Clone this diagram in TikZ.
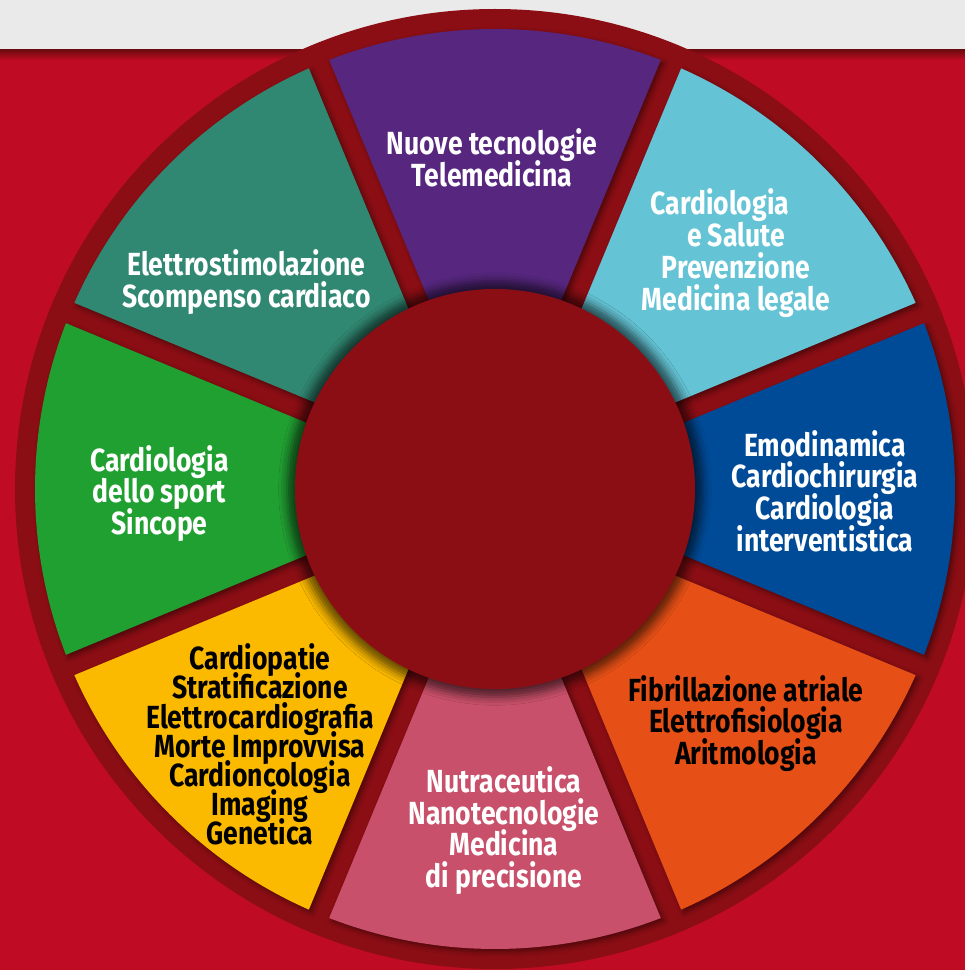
\documentclass[tikz,border=0pt]{standalone}
\usepackage{fontspec}
\setmainfont{Fira Sans}[FakeStretch=0.83]
\usetikzlibrary{shadows.blur}
\definecolor{bandgrey}{HTML}{EAEAEA}
\definecolor{bgred}{HTML}{C00B24}
\definecolor{ringred}{HTML}{8B0E14}
\definecolor{segteal}{HTML}{318872}
\definecolor{segpurple}{HTML}{572780}
\definecolor{seglblue}{HTML}{64C3D4}
\definecolor{segdblue}{HTML}{004B98}
\definecolor{segorange}{HTML}{E65016}
\definecolor{segpink}{HTML}{C8506A}
\definecolor{segyellow}{HTML}{FBBA00}
\definecolor{seggreen}{HTML}{21A032}
\newcommand{\wheelfont}[1]{\bfseries\fontsize{32}{#1}\selectfont\setlength{\lineskiplimit}{-30pt}}

\begin{document}
\begin{tikzpicture}[x=1pt,y=1pt,
  seg/.style={fill=#1,blur shadow={shadow xshift=3pt,shadow yshift=-3pt,shadow blur radius=5pt,shadow opacity=45}},
  white text/.style={align=center,text=white,inner sep=0pt,font=\wheelfont{31.8}},
  black text/.style={white text,text=black}]
  \useasboundingbox (-495,-481) rectangle (470,489);
  \fill[bandgrey] (-495,439) rectangle (470,489);
  \fill[bgred] (-495,-481) rectangle (470,439);
  \shade[top color=ringred!80!black,bottom color=bgred] (-495,429) rectangle (470,439);
  \fill[ringred] (0,0) circle[radius=480];

  % the eight sectors
  \fill[seg=segpurple] ({90-21.13}:460) arc[start angle={90-21.13},end angle={90+21.13},radius=460] -- ({90+18.3}:150) arc[start angle={90+18.3},end angle={90-18.3},radius=150] -- cycle;
  \fill[seg=seglblue] ({45-21.13}:460) arc[start angle={45-21.13},end angle={45+21.13},radius=460] -- ({45+18.3}:150) arc[start angle={45+18.3},end angle={45-18.3},radius=150] -- cycle;
  \fill[seg=segdblue] ({0-21.13}:460) arc[start angle={0-21.13},end angle={0+21.13},radius=460] -- ({0+18.3}:150) arc[start angle={0+18.3},end angle={0-18.3},radius=150] -- cycle;
  \fill[seg=segorange] ({-45-21.13}:460) arc[start angle={-45-21.13},end angle={-45+21.13},radius=460] -- ({-45+18.3}:150) arc[start angle={-45+18.3},end angle={-45-18.3},radius=150] -- cycle;
  \fill[seg=segpink] ({-90-21.13}:460) arc[start angle={-90-21.13},end angle={-90+21.13},radius=460] -- ({-90+18.3}:150) arc[start angle={-90+18.3},end angle={-90-18.3},radius=150] -- cycle;
  \fill[seg=segyellow] ({-135-21.13}:460) arc[start angle={-135-21.13},end angle={-135+21.13},radius=460] -- ({-135+18.3}:150) arc[start angle={-135+18.3},end angle={-135-18.3},radius=150] -- cycle;
  \fill[seg=seggreen] ({180-21.13}:460) arc[start angle={180-21.13},end angle={180+21.13},radius=460] -- ({180+18.3}:150) arc[start angle={180+18.3},end angle={180-18.3},radius=150] -- cycle;
  \fill[seg=segteal] ({135-21.13}:460) arc[start angle={135-21.13},end angle={135+21.13},radius=460] -- ({135+18.3}:150) arc[start angle={135+18.3},end angle={135-18.3},radius=150] -- cycle;

  \fill[ringred,blur shadow={shadow xshift=0pt,shadow yshift=0pt,shadow scale=1.04,shadow blur radius=8pt,shadow opacity=60}] (0,0) circle[radius=200];

  \node[white text] (nuove) at (-3,331) {Nuove tecnologie\\Telemedicina};
  \node[white text] (salute) at (241,236) {Cardiologia\hspace*{1em}\\e Salute\\Prevenzione\\Medicina legale};
  \node[white text] (emo) at (330,-2) {Emodinamica\\Cardiochirurgia\\Cardiologia\\interventistica};
  \node[black text] (fibri) at (251,-234.5) {Fibrillazione atriale\\Elettrofisiologia\\Aritmologia};
  \node[white text] (nutra) at (9,-341.5) {Nutraceutica\\Nanotecnologie\\Medicina\\di precisione};
  \node[black text,font=\wheelfont{29.2}] (cardiopatie) at (-235,-255.5) {Cardiopatie\\Stratificazione\\Elettrocardiografia\\Morte Improvvisa\\Cardioncologia\\Imaging\\Genetica};
  \node[white text] (sport) at (-335.5,-4.5) {Cardiologia\\dello sport\\Sincope};
  \node[white text] (elettro) at (-248.5,207) {Elettrostimolazione\\Scompenso cardiaco};
\end{tikzpicture}
\end{document}
